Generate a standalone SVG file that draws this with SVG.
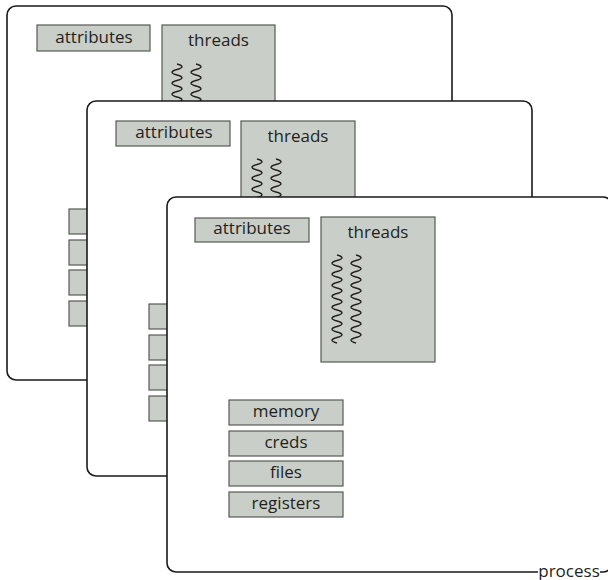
<svg xmlns="http://www.w3.org/2000/svg" width="608" height="580" viewBox="0 0 608 580">
  <style>
    .card { fill: #ffffff; stroke: #1a1a1a; stroke-width: 1.6; }
    .box { fill: #c9cec8; stroke: #555a55; stroke-width: 1.2; }
    .lbl { font-family: "Open Sans", "Noto Sans", sans-serif; font-size: 17px; fill: #231f20; text-anchor: middle; }
    .thread { fill: none; stroke: #231f20; stroke-width: 1.4; }
  </style>
  <defs>
    <!-- one thread squiggle: 16 half-waves, 5.5px each -->
    <path id="squiggle" class="thread" d="M 0 0 q 10 2.75 0 5.5 t 0 5.5 t 0 5.5 t 0 5.5 t 0 5.5 t 0 5.5 t 0 5.5 t 0 5.5 t 0 5.5 t 0 5.5 t 0 5.5 t 0 5.5 t 0 5.5 t 0 5.5 t 0 5.5 t 0 5.5"/>
  </defs>

  <!-- back process -->
  <g id="process-back" transform="translate(7,6)">
    <rect class="card" x="0" y="0" width="445" height="374" rx="9"/>
    <g id="back-attributes"><rect class="box" x="30" y="19" width="113" height="26"/><text class="lbl" x="87" y="37">attributes</text></g>
    <g id="back-threads">
      <rect class="box" x="155" y="19" width="113" height="145"/>
      <text class="lbl" x="211.5" y="40">threads</text>
      <use href="#squiggle" x="170" y="58"/>
      <use href="#squiggle" x="189" y="58"/>
    </g>
    <g id="back-memory"><rect class="box" x="62" y="203" width="114" height="25"/><text class="lbl" x="119" y="220">memory</text></g>
    <g id="back-creds"><rect class="box" x="62" y="234" width="114" height="25"/><text class="lbl" x="119" y="251">creds</text></g>
    <g id="back-files"><rect class="box" x="62" y="264" width="114" height="25"/><text class="lbl" x="119" y="281">files</text></g>
    <g id="back-registers"><rect class="box" x="62" y="295" width="114" height="25"/><text class="lbl" x="119" y="312">registers</text></g>
  </g>

  <!-- middle process -->
  <g id="process-middle" transform="translate(87,101)">
    <rect class="card" x="0" y="0" width="445" height="375" rx="9"/>
    <g id="middle-attributes"><rect class="box" x="29" y="20" width="114" height="25"/><text class="lbl" x="87" y="37">attributes</text></g>
    <g id="middle-threads">
      <rect class="box" x="154" y="20" width="114" height="145"/>
      <text class="lbl" x="211" y="41">threads</text>
      <use href="#squiggle" x="170" y="58"/>
      <use href="#squiggle" x="189" y="58"/>
    </g>
    <g id="middle-memory"><rect class="box" x="62" y="203" width="114" height="25"/><text class="lbl" x="119" y="220">memory</text></g>
    <g id="middle-creds"><rect class="box" x="62" y="234" width="114" height="25"/><text class="lbl" x="119" y="251">creds</text></g>
    <g id="middle-files"><rect class="box" x="62" y="264" width="114" height="25"/><text class="lbl" x="119" y="281">files</text></g>
    <g id="middle-registers"><rect class="box" x="62" y="295" width="114" height="25"/><text class="lbl" x="119" y="312">registers</text></g>
  </g>

  <!-- front process -->
  <g id="process-front" transform="translate(167,197)">
    <rect class="card" x="0" y="0" width="445" height="375" rx="9"/>
    <g id="attributes"><rect class="box" x="28" y="21" width="114" height="24"/><text class="lbl" x="85" y="37">attributes</text></g>
    <g id="threads">
      <rect class="box" x="154" y="20" width="114" height="145"/>
      <text class="lbl" x="211" y="41">threads</text>
      <use href="#squiggle" x="170" y="58"/>
      <use href="#squiggle" x="189" y="58"/>
    </g>
    <g id="memory"><rect class="box" x="62" y="203" width="114" height="25"/><text class="lbl" x="119" y="220">memory</text></g>
    <g id="creds"><rect class="box" x="62" y="234" width="114" height="25"/><text class="lbl" x="119" y="251">creds</text></g>
    <g id="files"><rect class="box" x="62" y="264" width="114" height="25"/><text class="lbl" x="119" y="281">files</text></g>
    <g id="registers"><rect class="box" x="62" y="295" width="114" height="25"/><text class="lbl" x="119" y="312">registers</text></g>
    <!-- caption sitting on the bottom edge -->
    <g id="process-label">
      <rect x="371" y="368" width="62" height="14" fill="#ffffff"/>
      <text class="lbl" x="402" y="380">process</text>
    </g>
  </g>
</svg>
